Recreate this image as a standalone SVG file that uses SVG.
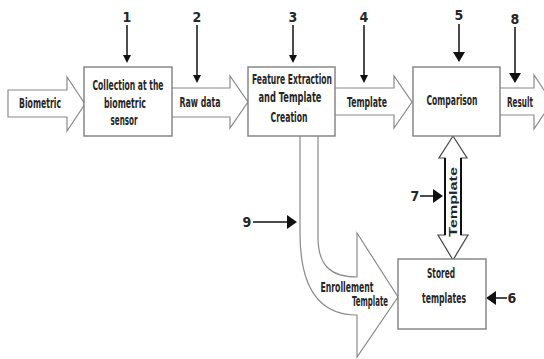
<svg xmlns="http://www.w3.org/2000/svg" width="544" height="359" viewBox="0 0 544 359">
<defs>
<style>
.t{font-family:"Liberation Sans Narrow","DejaVu Sans Condensed","Liberation Sans",sans-serif;font-weight:bold;font-size:14.5px;fill:#262626;text-anchor:middle}
.n{font-family:"Liberation Sans Narrow","DejaVu Sans Condensed","Liberation Sans",sans-serif;font-weight:bold;font-size:14px;fill:#262626;text-anchor:middle}
.box{fill:#fff;stroke:#7f7f7f;stroke-width:1.4}
.ar{fill:#fff;stroke:#8a8a8a;stroke-width:1.2;stroke-linejoin:miter}
.ln{stroke:#111;stroke-width:1.5;fill:none}
.hd{fill:#111}
</style>
</defs>
<rect width="544" height="359" fill="#fff"/>
<g id="connectors">
<g id="arrow-biometric"><path class="ar" d="M8,90 L67,90 L67,77 L85,104 L67,131 L67,117 L8,117 Z"/></g>
<g id="arrow-rawdata"><path class="ar" d="M172,88 L230,88 L230,76 L248,102 L230,128 L230,117 L172,117"/></g>
<g id="arrow-template"><path class="ar" d="M335,88 L394,88 L394,76 L412,102 L394,128 L394,115 L335,115"/></g>
<g id="arrow-result"><path class="ar" d="M500,88 L534,88 L534,75 L552,102 L534,129 L534,115 L500,115"/></g>
<g id="arrow-enrollment"><path class="ar" d="M300,136 L300,233 C300,290 320,315 357,315 L357,357 L398,297 L357,233 L357,277 C330,277 318,265 318,237 L318,136"/></g>
<g id="arrow-stored-template">
<path d="M453,136 L467,158 L461,158 L461,235 L468,235 L453,260 L438,235 L445,235 L445,158 L439,158 Z" fill="#fff" stroke="#444" stroke-width="1.2"/>
<line x1="445" y1="158" x2="445" y2="235" stroke="#111" stroke-width="2"/>
<line x1="461" y1="158" x2="461" y2="235" stroke="#111" stroke-width="2"/>
</g>
<g id="pointers">
<line class="ln" x1="127" y1="25" x2="127" y2="56"/><path class="hd" d="M123,55 L131,55 L127,63 Z"/>
<line class="ln" x1="197" y1="25" x2="197" y2="76"/><path class="hd" d="M193,75 L201,75 L197,83 Z"/>
<line class="ln" x1="293" y1="25" x2="293" y2="56"/><path class="hd" d="M289,55 L297,55 L293,63 Z"/>
<line class="ln" x1="364" y1="25" x2="364" y2="76"/><path class="hd" d="M360,75 L368,75 L364,83 Z"/>
<line class="ln" x1="459" y1="24" x2="459" y2="53"/><path class="hd" d="M453,52 L465,52 L459,62 Z"/>
<line class="ln" x1="515" y1="27" x2="515" y2="74"/><path class="hd" d="M509,73 L521,73 L515,83 Z"/>
<line class="ln" x1="420" y1="196" x2="434" y2="196"/><path class="hd" d="M433,189 L443,196 L433,203 Z"/>
<line class="ln" x1="253" y1="222" x2="288" y2="222"/><path class="hd" d="M287,215 L297,222 L287,229 Z"/>
<line class="ln" x1="507" y1="298" x2="495" y2="298"/><path class="hd" d="M496,291 L486,298 L496,305 Z"/>
</g>
</g>
<g id="node-collection"><rect class="box" x="84" y="67" width="88" height="69"/>
<text class="t" x="128" y="90" textLength="71" lengthAdjust="spacingAndGlyphs">Collection at the</text>
<text class="t" x="125" y="108" textLength="42" lengthAdjust="spacingAndGlyphs">biometric</text>
<text class="t" x="124" y="125" textLength="27" lengthAdjust="spacingAndGlyphs">sensor</text></g>
<g id="node-feature"><rect class="box" x="248" y="67" width="87" height="69"/>
<text class="t" x="292" y="84" textLength="80" lengthAdjust="spacingAndGlyphs">Feature Extraction</text>
<text class="t" x="290" y="102" textLength="63" lengthAdjust="spacingAndGlyphs">and Template</text>
<text class="t" x="289" y="122" textLength="37" lengthAdjust="spacingAndGlyphs">Creation</text></g>
<g id="node-comparison"><rect class="box" x="413" y="67" width="87" height="69"/>
<text class="t" x="452" y="105" textLength="51" lengthAdjust="spacingAndGlyphs">Comparison</text></g>
<g id="node-stored"><rect class="box" x="398" y="259" width="88" height="70"/>
<text class="t" x="441" y="278" textLength="28" lengthAdjust="spacingAndGlyphs">Stored</text>
<text class="t" x="444" y="303" textLength="44" lengthAdjust="spacingAndGlyphs">templates</text></g>
<g id="labels">
<text class="t" x="40" y="108" textLength="42" lengthAdjust="spacingAndGlyphs">Biometric</text>
<text class="t" x="200" y="107" textLength="41" lengthAdjust="spacingAndGlyphs">Raw data</text>
<text class="t" x="367" y="107" textLength="40" lengthAdjust="spacingAndGlyphs">Template</text>
<text class="t" x="520" y="107" textLength="26" lengthAdjust="spacingAndGlyphs">Result</text>
<text class="t" x="347" y="292" textLength="53" lengthAdjust="spacingAndGlyphs">Enrollement</text>
<text class="t" x="370" y="306" textLength="36" lengthAdjust="spacingAndGlyphs">Template</text>
<text class="t" transform="translate(457,202) rotate(-90)" x="0" y="0" style="font-family:'Liberation Sans','DejaVu Sans',sans-serif;font-size:11px" textLength="70" lengthAdjust="spacingAndGlyphs">Template</text>
<text class="n" x="127" y="22">1</text>
<text class="n" x="197" y="22">2</text>
<text class="n" x="293" y="22">3</text>
<text class="n" x="364" y="22">4</text>
<text class="n" x="459" y="20">5</text>
<text class="n" x="515" y="24">8</text>
<text class="n" x="415" y="201">7</text>
<text class="n" x="247" y="227">9</text>
<text class="n" x="512" y="303">6</text>
</g>
</svg>
